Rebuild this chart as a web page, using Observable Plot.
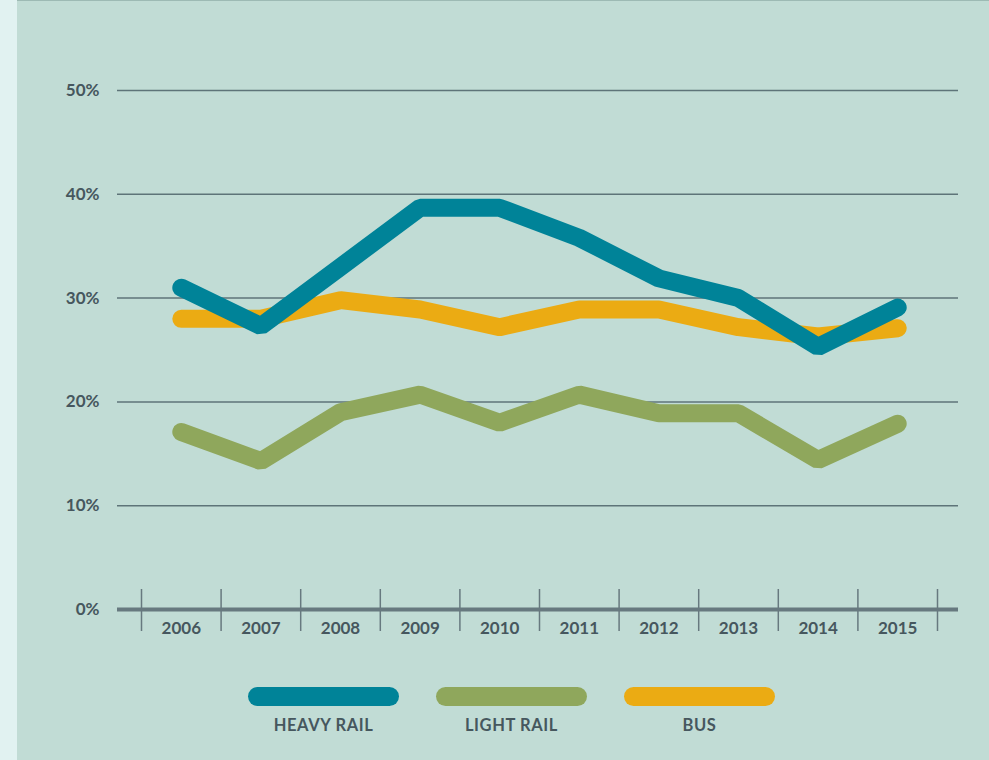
<!DOCTYPE html>
<html>
<head>
<meta charset="utf-8">
<script src="https://cdn.jsdelivr.net/npm/d3@7"></script>
<script src="https://cdn.jsdelivr.net/npm/@observablehq/plot@0.6"></script>
<style>
  html, body { margin: 0; padding: 0; }
  body {
    width: 989px; height: 760px; overflow: hidden; position: relative;
    background: #c1dcd5; font-family: Lato, "Open Sans", sans-serif;
  }
  #strip { position: absolute; left: 0; top: 0; width: 17px; height: 760px; background: #e1f2f1; }
  #topline { position: absolute; left: 17px; top: 0; right: 0; height: 1px; background: #9dbab4; }
  #chart { position: absolute; left: 0; top: 0; }
  #legend { position: absolute; left: 248px; top: 687px; display: flex; gap: 37px; }
  .item { width: 151px; text-align: center; }
  .sw { height: 19px; border-radius: 10px; }
  .lab { margin-top: 10px; font-size: 16.5px; line-height: 18px; font-weight: 700; color: #46575e; letter-spacing: 0.6px; }
</style>
</head>
<body>
<div id="strip"></div>
<div id="topline"></div>
<div id="chart"></div>
<div id="legend"></div>
<script>
const years = [2006, 2007, 2008, 2009, 2010, 2011, 2012, 2013, 2014, 2015];
const heavyRail = [31.0, 27.3, 33.0, 38.7, 38.7, 35.8, 31.9, 30.0, 25.3, 29.1];
const lightRail = [17.1, 14.3, 19.0, 20.7, 18.0, 20.7, 18.9, 18.9, 14.4, 17.9];
const bus = [28.0, 28.0, 29.8, 28.9, 27.2, 28.9, 28.9, 27.2, 26.3, 27.1];
const yTicks = [0, 10, 20, 30, 40, 50];
const seriesNames = ["HEAVY RAIL", "LIGHT RAIL", "BUS"];
const seriesColors = ["#008398", "#8fa75c", "#ebab13"];

const toRows = (vals) => years.map((y, i) => ({year: y, value: vals[i]}));
const bounds = [years[0] - 0.5, ...years.map(y => y + 0.5)];
const textColor = "#46575e";

const lineOpts = (color) => ({
  x: "year", y: "value", stroke: color, strokeWidth: 18,
  strokeLinecap: "round", strokeLinejoin: "miter"
});

const chart = Plot.plot({
  width: 989,
  height: 660,
  marginLeft: 117,
  marginRight: 31,
  marginTop: 90,
  marginBottom: 51,
  style: {background: "transparent", fontFamily: "Lato, 'Open Sans', sans-serif", overflow: "visible"},
  x: {domain: [bounds[0], bounds[bounds.length - 1]], insetLeft: 24, insetRight: 21, axis: null},
  y: {domain: [0, 50], axis: null},
  marks: [
    Plot.ruleY(yTicks.filter(d => d > 0), {stroke: "#5e7479", strokeWidth: 1.5}),
    Plot.text(yTicks, {
      x: bounds[0], y: d => d, text: d => d + "%", textAnchor: "end",
      dx: -42, fontSize: 17, fontWeight: 700, fill: textColor
    }),
    Plot.ruleX(bounds, {x: d => d, y1: 0, y2: 0, insetTop: -20, insetBottom: -22, stroke: "#67797f", strokeWidth: 1.5}),
    Plot.ruleY([0], {stroke: "#67797f", strokeWidth: 4}),
    Plot.text(years, {x: d => d, y: 0, text: d => String(d), dy: 19, fontSize: 17, fontWeight: 700, fill: textColor}),
    Plot.line(toRows(lightRail), lineOpts(seriesColors[1])),
    Plot.line(toRows(bus), lineOpts(seriesColors[2])),
    Plot.line(toRows(heavyRail), lineOpts(seriesColors[0]))
  ]
});
document.getElementById("chart").appendChild(chart);

const legend = document.getElementById("legend");
seriesNames.forEach((name, i) => {
  const item = document.createElement("div");
  item.className = "item";
  item.innerHTML = `<div class="sw" style="background:${seriesColors[i]}"></div><div class="lab">${name}</div>`;
  legend.appendChild(item);
});
</script>
</body>
</html>
